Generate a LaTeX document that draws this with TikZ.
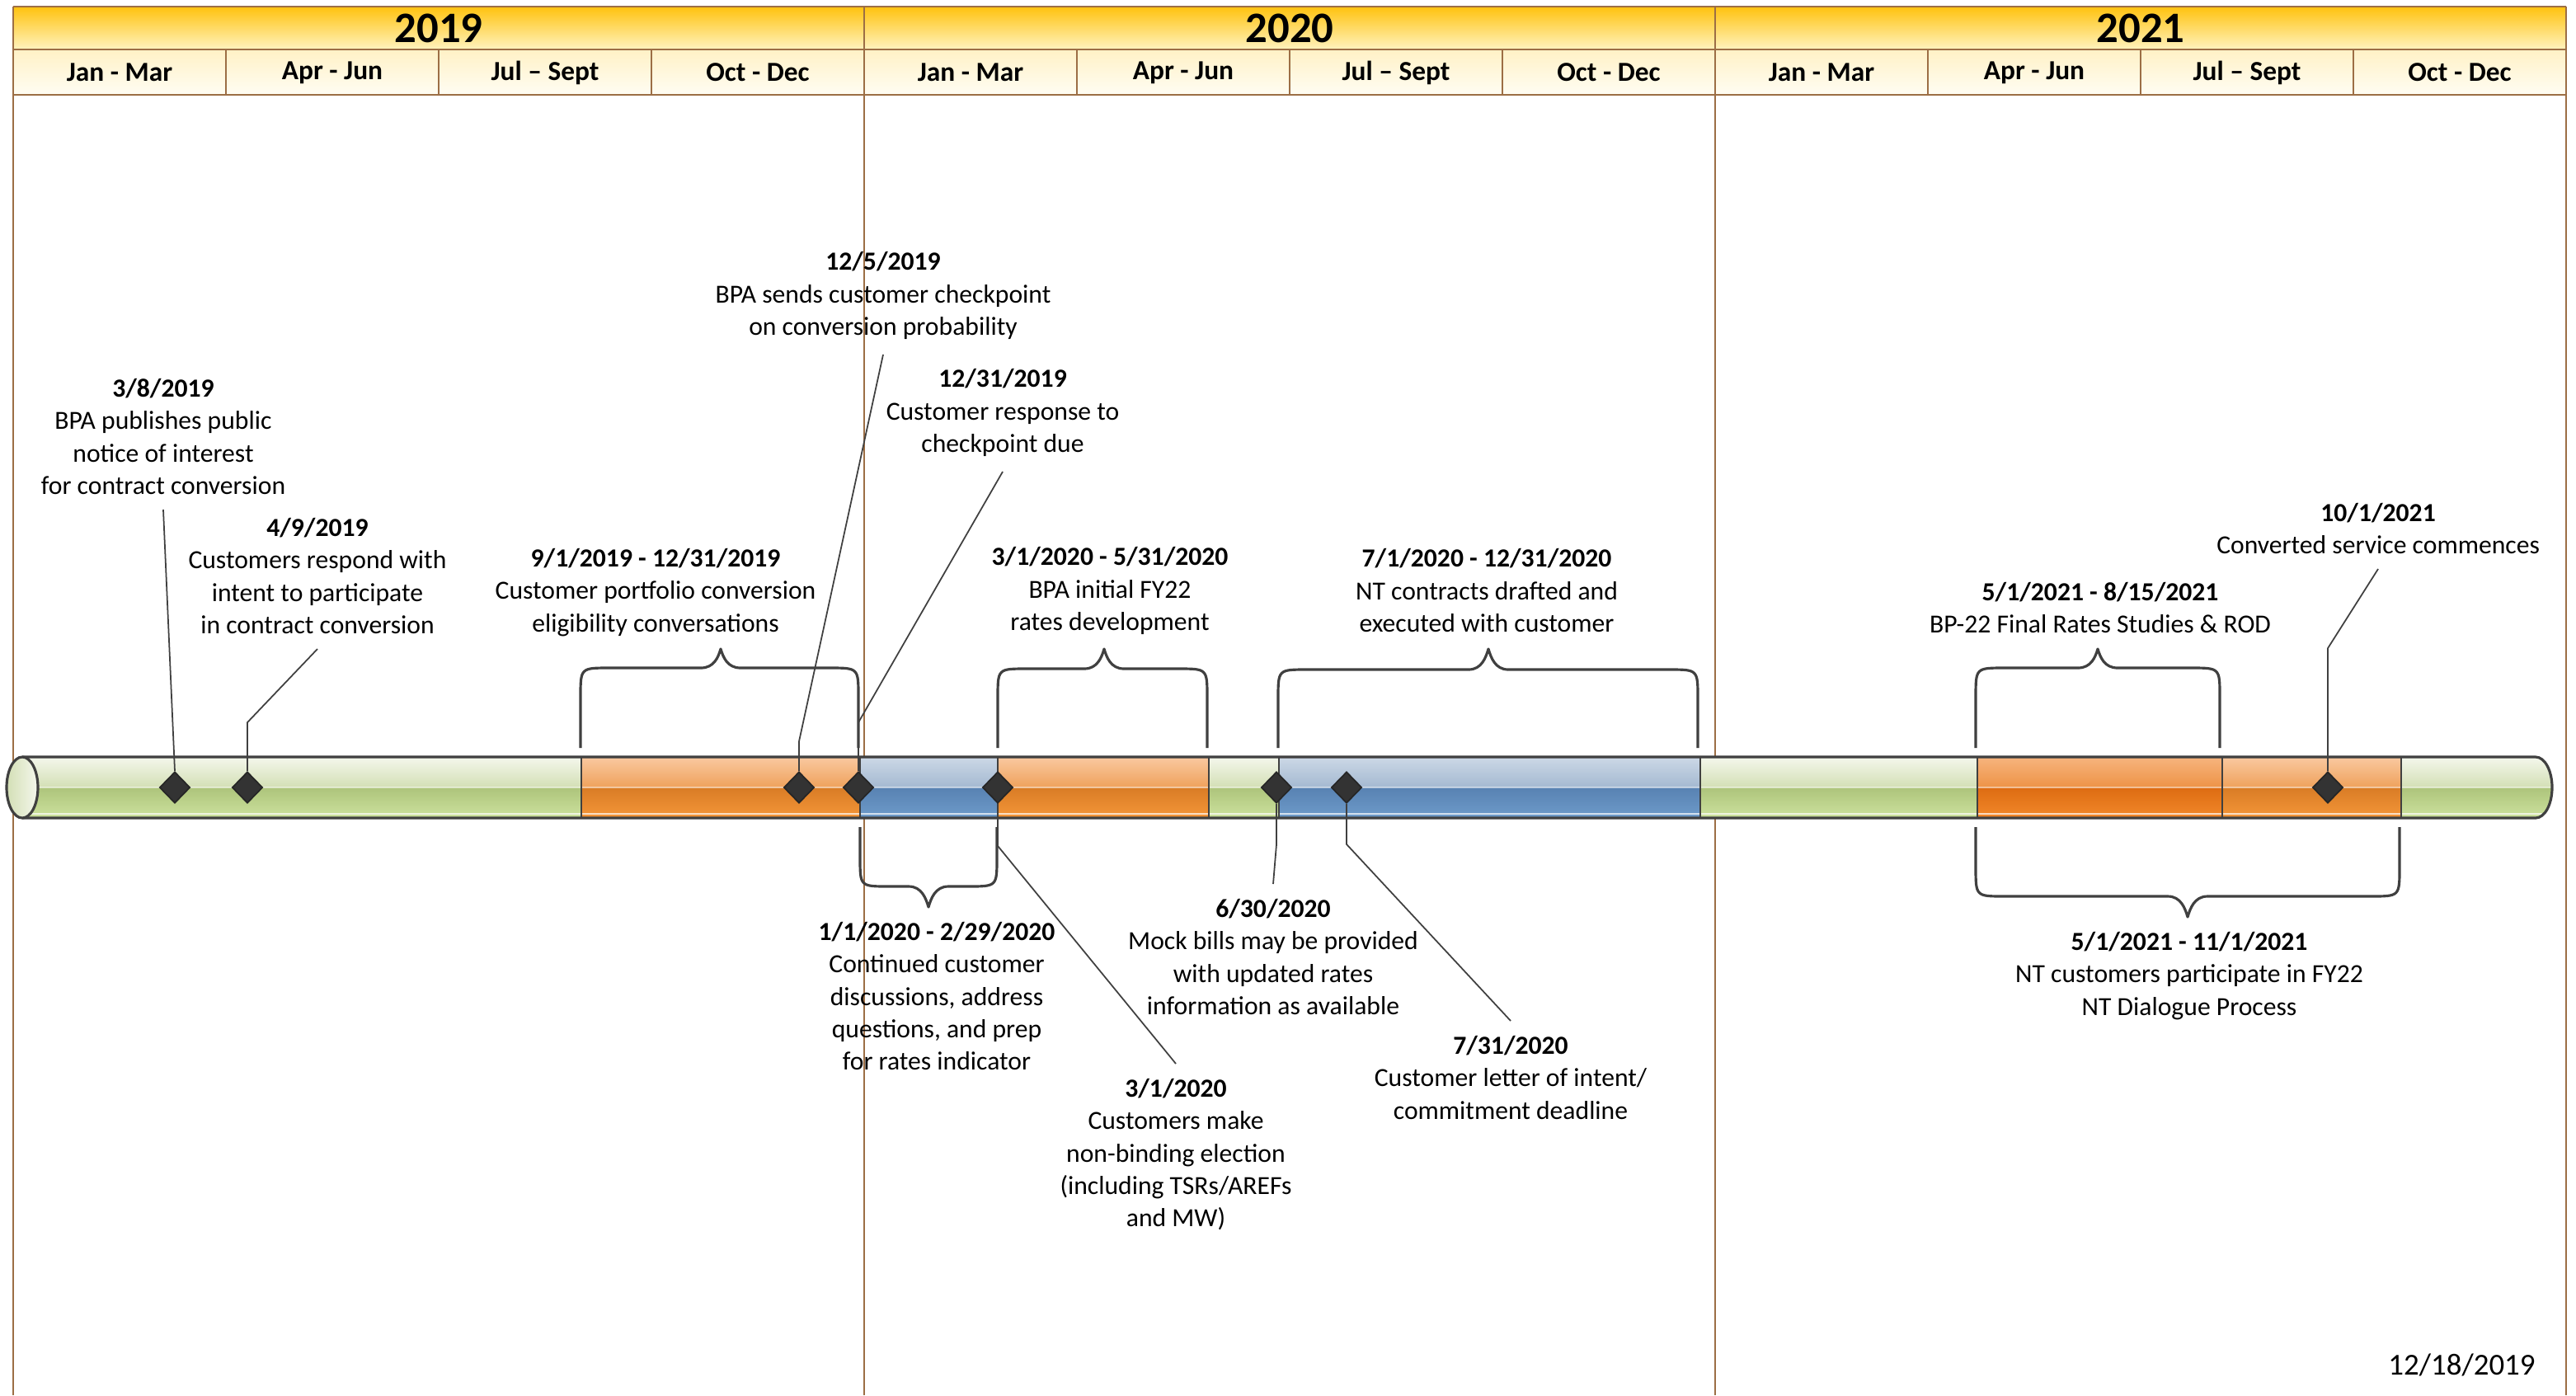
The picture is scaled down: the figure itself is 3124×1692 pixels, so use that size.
\documentclass[tikz,border=0pt]{standalone}
\usepackage{fontspec}
\setmainfont{Carlito}
\usetikzlibrary{shapes.geometric}

\definecolor{anoA}{HTML}{FFC20E}
\definecolor{anoB}{HTML}{FFF3BF}
\definecolor{triA}{HTML}{FFF1C6}
\definecolor{triB}{HTML}{FFFDF3}
\definecolor{marrom}{HTML}{9C6E45}
\definecolor{traco}{HTML}{404040}
\definecolor{grnTa}{HTML}{F4F7EC}
\definecolor{grnTb}{HTML}{D3DFB5}
\definecolor{grnBa}{HTML}{ADC47B}
\definecolor{grnBb}{HTML}{CDE29E}
\definecolor{orgTa}{HTML}{F9C8A0}
\definecolor{orgTb}{HTML}{EFA25C}
\definecolor{orgBa}{HTML}{D97C26}
\definecolor{orgBb}{HTML}{F49638}
\definecolor{ordTa}{HTML}{F6B47E}
\definecolor{ordTb}{HTML}{EE9346}
\definecolor{ordBa}{HTML}{DD6C12}
\definecolor{ordBb}{HTML}{F2882A}
\definecolor{bluTa}{HTML}{CCD8E6}
\definecolor{bluTb}{HTML}{A4B9D1}
\definecolor{bluBa}{HTML}{5882B2}
\definecolor{bluBb}{HTML}{6E9BCA}

\begin{document}
\begin{tikzpicture}[x=0.1mm, y=-0.1mm,
    evento/.style={align=center, font=\fontsize{9}{11.2}\selectfont, inner xsep=0pt, inner ysep=5pt},
    marco/.style={diamond, draw=black!85, fill=black!80, line width=0.5pt, minimum width=3.7mm, minimum height=3.8mm, inner sep=0pt},
    guia/.style={draw=traco, line width=0.5pt},
    chave/.style={draw=traco, line width=0.9pt, line join=round},
    moldura/.style={draw=marrom, line width=0.5pt}]
    \useasboundingbox (0,0) rectangle (3124,1692);
    % cabecalho com anos e trimestres
    \foreach \ano [count=\i from 0] in {2019,2020,2021}{
        \shade[top color=anoA, bottom color=anoB] (16+1032*\i,8) rectangle (1048+1032*\i,60);
        \shade[top color=triA, bottom color=triB] (16+1032*\i,60) rectangle (1048+1032*\i,115);
        \node[font=\fontsize{15}{18}\selectfont\bfseries] (a\ano) at (532+1032*\i,34) {\ano};
        \foreach \tri [count=\j from 0] in {Jan - Mar, Apr - Jun, Jul – Sept, Oct - Dec}{
            \node[font=\fontsize{9.5}{11}\selectfont\bfseries] (t\ano\j) at (145+1032*\i+258*\j,88) {\tri};
            \draw[moldura] (16+1032*\i+258*\j,60) -- (16+1032*\i+258*\j,115);
        }
    }
    \draw[moldura] (16,8) -- (3112,8) (16,60) -- (3112,60) (16,115) -- (3112,115);
    \foreach \x in {16,1048,2080,3112}
        \draw[moldura] (\x,8) -- (\x,1692);

    % barra da linha do tempo
    \begin{scope}
        \clip (27,918) -- (3075,918) arc[start angle=-90, end angle=90, x radius=20, y radius=37] -- (27,992) -- cycle;
        \foreach \a/\b/\c in {27/705/grn, 705/1043/org, 1043/1210/blu, 1210/1466/org, 1466/1551/grn, 1551/2062/blu, 2062/2398/grn, 2398/2695/ord, 2695/2912/org, 2912/3100/grn}{
            \shade[top color=\c Ta, bottom color=\c Tb] (\a,918) rectangle (\b,955);
            \shade[top color=\c Ba, bottom color=\c Bb] (\a,955) rectangle (\b,992);
        }
        \draw[white, opacity=0.5, line width=0.6pt] (27,955) -- (3100,955);
        \draw[white, opacity=0.7, line width=0.6pt] (27,987) -- (3100,987);
    \end{scope}
    \foreach \x in {705,1043,1210,1466,1551,2062,2398,2695,2912}
        \draw[traco, line width=0.5pt] (\x,918) -- (\x,992);
    \draw[traco, line width=0.9pt] (27,918) -- (3075,918) arc[start angle=-90, end angle=90, x radius=20, y radius=37] -- (27,992);
    \shade[left color=grnTb, right color=grnTa, draw=traco, line width=0.9pt] (27,955) ellipse [x radius=19, y radius=37];

    % chaves dos periodos
    \foreach \a/\b/\m/\yb/\yh/\yt/\s in {704/1041/874/907/810/787/1, 1210/1464/1339/907/811/787/1, 1550/2059/1805/907/812/787/1, 2396/2692/2544/907/810/787/1, 1043/1209/1126/1003/1075/1100/-1, 2396/2910/2653/1003/1087/1112/-1}
        \draw[chave] (\a,\yb) -- (\a,{\yh+35*\s}) .. controls (\a,\yh) .. (\a+35,\yh) -- (\m-24,\yh) .. controls (\m-8,\yh) and (\m-3,{\yt+10*\s}) .. (\m,\yt) .. controls (\m+3,{\yt+10*\s}) and (\m+8,\yh) .. (\m+24,\yh) -- (\b-35,\yh) .. controls (\b,\yh) .. (\b,{\yh+35*\s}) -- (\b,\yb);

    % marcos na barra
    \foreach \x/\n in {212/m38, 300/m49, 969/m125, 1041/m1231, 1210/m31, 1548/m630, 1633/m731, 2823/m101}
        \node[marco] (\n) at (\x,955) {};

    % textos acima da barra
    \node[evento, anchor=south] (l38) at (198,618) {\textbf{3/8/2019}\\BPA publishes public\\notice of interest\\for contract conversion};
    \node[evento, anchor=south] (l49) at (385,787) {\textbf{4/9/2019}\\Customers respond with\\intent to participate\\in contract conversion};
    \node[evento, anchor=south] (l125) at (1071,430) {\textbf{12/5/2019}\\BPA sends customer checkpoint\\on conversion probability};
    \node[evento, anchor=south] (l1231) at (1216,572) {\textbf{12/31/2019}\\Customer response to\\checkpoint due};
    \node[evento, anchor=south] (l101) at (2884,690) {\textbf{10/1/2021}\\Converted service commences};
    \node[evento, anchor=south] (p1) at (795,790) {\textbf{9/1/2019 - 12/31/2019}\\Customer portfolio conversion\\eligibility conversations};
    \node[evento, anchor=south] (p2) at (1346,788) {\textbf{3/1/2020 - 5/31/2020}\\BPA initial FY22\\rates development};
    \node[evento, anchor=south] (p3) at (1803,785) {\textbf{7/1/2020 - 12/31/2020}\\NT contracts drafted and\\executed with customer};
    \node[evento, anchor=south] (p4) at (2547,786) {\textbf{5/1/2021 - 8/15/2021}\\BP-22 Final Rates Studies \& ROD};

    % textos abaixo da barra
    \node[evento, anchor=north] (p5) at (1136,1100) {\textbf{1/1/2020 - 2/29/2020}\\Continued customer\\discussions, address\\questions, and prep\\for rates indicator};
    \node[evento, anchor=north] (p6) at (2655,1112) {\textbf{5/1/2021 - 11/1/2021}\\NT customers participate in FY22\\NT Dialogue Process};
    \node[evento, anchor=north] (l31) at (1426,1290) {\textbf{3/1/2020}\\Customers make\\non-binding election\\(including TSRs/AREFs\\and MW)};
    \node[evento, anchor=north] (l630) at (1544,1072) {\textbf{6/30/2020}\\Mock bills may be provided\\with updated rates\\information as available};
    \node[evento, anchor=north] (l731) at (1832,1238) {\textbf{7/31/2020}\\Customer letter of intent/\\commitment deadline};
    \node[font=\fontsize{10.5}{12}\selectfont, anchor=east] (data) at (3087,1655) {12/18/2019};

    % linhas guia
    \draw[guia] (m38.north) -- (l38.south);
    \draw[guia] (m49.north) -- ++(0,-59) -- (l49.south);
    \draw[guia] (m125.north) -- ++(0,-36) -- (l125.south);
    \draw[guia] (m1231.north) -- ++(0,-59) -- (l1231.south);
    \draw[guia] (m101.north) -- ++(0,-149) -- (l101.south);
    \draw[guia] (m31.south) -- ++(0,51) -- (l31.north);
    \draw[guia] (m630.south) -- ++(0,49) -- (l630.north);
    \draw[guia] (m731.south) -- ++(0,49) -- (l731.north);
\end{tikzpicture}
\end{document}
